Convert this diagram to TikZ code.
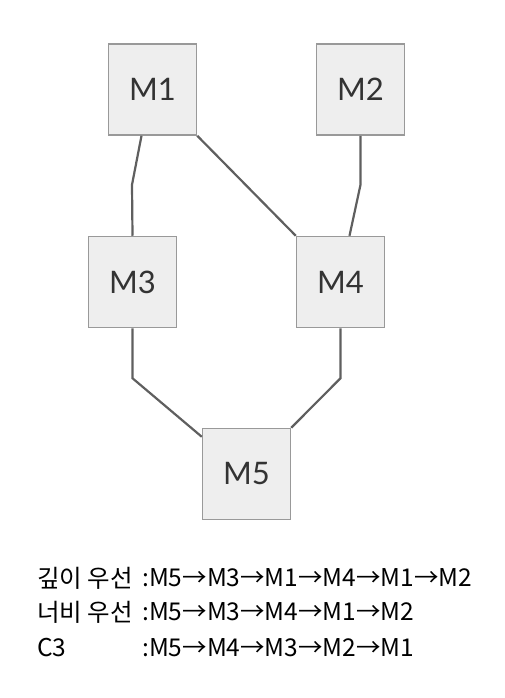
\documentclass[tikz,border=0pt]{standalone}
\usepackage{fontspec}
\setmainfont{Lato}
\newfontfamily\cjk{Noto Sans CJK KR}
\definecolor{boxfill}{HTML}{EEEEEE}
\definecolor{boxline}{HTML}{999999}
\definecolor{edgeline}{HTML}{5F5F5F}
\definecolor{txt}{HTML}{333333}
\tikzset{
  mod/.style={draw=boxline,fill=boxfill,line width=1.5pt,minimum width=88pt,minimum height=91pt,
    inner sep=0pt,text=txt,font=\fontsize{31}{31}\selectfont},
  edge/.style={draw=edgeline,line width=2.2pt},
  order/.style={anchor=west,inner sep=0pt,font=\cjk\fontsize{24.5}{24.5}\selectfont}
}
\begin{document}
\begin{tikzpicture}[x=1pt,y=-1pt]
\useasboundingbox (0,0) rectangle (504,698);

\node[mod] (M1) at (152.5,89.5) {M1};
\node[mod] (M2) at (360.5,89.5) {M2};
\node[mod] (M3) at (132.5,282) {M3};
\node[mod] (M4) at (340.5,282) {M4};
\node[mod] (M5) at (246.5,474) {M5};

\draw[edge] ([xshift=-11pt]M1.south) -- ++(-9.5,49) -- (M3.north);
\draw[edge] (M1.south east) -- (M4.north west);
\draw[edge] (M2.south) -- ++(0,49) -- ([xshift=9pt]M4.north);
\draw[edge] (M3.south) -- ++(0,50) -- ([yshift=-9pt]M5.north west);
\draw[edge] (M4.south) -- ++(0,50) -- (M5.north east);

\node[order] (dfs) at (37,578) {깊이 우선};
\node[order] (bfs) at (37,612) {너비 우선};
\node[order] (c3) at (37,648) {C3};
\node[order] (dfsseq) at (142,578) {:M5→M3→M1→M4→M1→M2};
\node[order] (bfsseq) at (142,612) {:M5→M3→M4→M1→M2};
\node[order] (c3seq) at (142,648) {:M5→M4→M3→M2→M1};

\end{tikzpicture}
\end{document}
